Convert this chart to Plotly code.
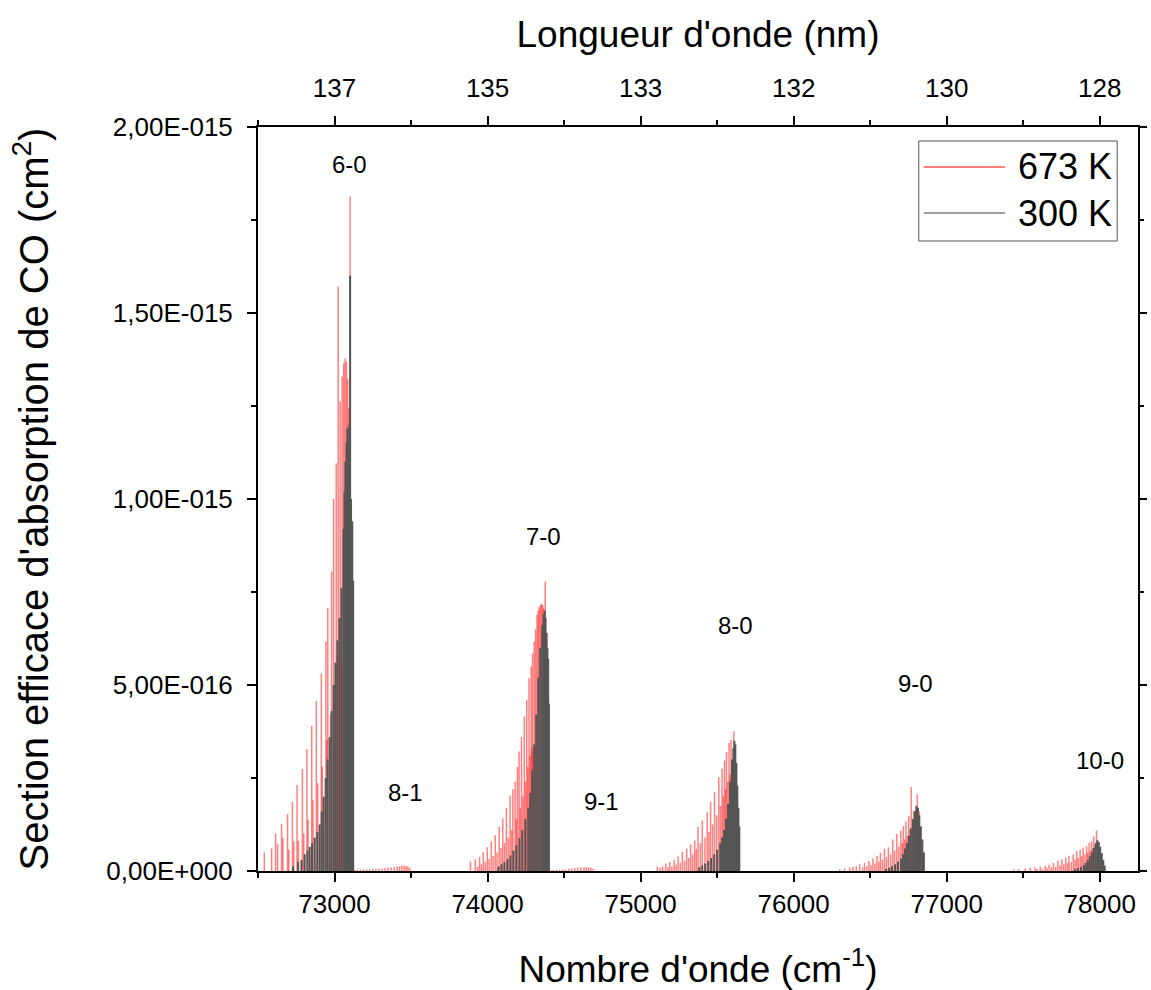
import plotly.graph_objects as go

UNIT = 1e-15  # heights below are in units of 1E-015 cm^2

# ---------------- band 6-0 ----------------
red_60_wn = [72541, 72589, 72615, 72654, 72693, 72725, 72755, 72790, 72820, 72851, 72881, 72914,
             72944, 72956, 72981, 72994, 73011, 73024, 73037, 73050, 73060, 73069, 73078, 73086,
             73093, 73102, 73108,
             72628, 72662, 72701, 72734, 72764, 72799, 72827, 72859, 72890, 72920, 72950, 72974,
             73000, 73017, 73030, 73043, 73056, 73066]
red_60_h = [0.050, 0.061, 0.101, 0.126, 0.153, 0.186, 0.231, 0.274, 0.327, 0.390, 0.457, 0.531,
            0.616, 0.707, 0.805, 1.000, 1.096, 1.571, 1.262, 1.329, 1.365, 1.378, 1.369, 1.324,
            1.244, 1.813, 0.997,
            0.072, 0.088, 0.058, 0.079, 0.081, 0.101, 0.137, 0.190, 0.236, 0.280, 0.352, 0.420,
            0.500, 0.560, 0.580, 0.570, 0.550, 0.600]
gray_60_wn = [72729, 72762, 72784, 72805, 72823, 72838, 72853, 72870, 72888, 72903, 72916, 72929,
              72942, 72955, 72968, 72981, 72994, 73006, 73019, 73032, 73045, 73058, 73065, 73071,
              73078, 73084, 73091, 73097, 73102, 73108, 73116, 73122]
gray_60_h = [0.012, 0.025, 0.030, 0.045, 0.055, 0.065, 0.075, 0.090, 0.105, 0.125, 0.160, 0.200,
             0.250, 0.300, 0.360, 0.430, 0.500, 0.560, 0.620, 0.680, 0.760, 0.920, 1.020, 1.100,
             1.150, 1.190, 1.170, 1.200, 1.600, 1.000, 0.940, 0.780]

# ---------------- band 8-1 ----------------
red_81_wn = [73130, 73150, 73170, 73190, 73210, 73230, 73250, 73270, 73290, 73310, 73330, 73350,
             73370, 73390, 73410, 73425, 73440, 73455, 73468, 73480, 73492]
red_81_h = [0.003, 0.003, 0.004, 0.004, 0.005, 0.005, 0.006, 0.006, 0.007, 0.007, 0.008, 0.009,
            0.010, 0.011, 0.012, 0.013, 0.014, 0.015, 0.014, 0.012, 0.008]

# ---------------- band 7-0 ----------------
red_70_wn = [73888, 73920, 73948, 73972, 73998, 74024, 74050, 74076, 74099, 74123, 74147, 74165,
             74180, 74195, 74206, 74222, 74240, 74256, 74271, 74285, 74294, 74305, 74314, 74323,
             74331, 74338, 74346, 74353, 74360, 74366, 74372, 74377, 74388, 74394,
             73935, 73960, 73985, 74010, 74036, 74062, 74088, 74111, 74135, 74157, 74188, 74214,
             74231, 74248, 74263, 74278, 74290, 74300, 74310]
red_70_h = [0.025, 0.031, 0.038, 0.051, 0.064, 0.079, 0.096, 0.119, 0.141, 0.169, 0.203, 0.220,
            0.240, 0.280, 0.321, 0.360, 0.415, 0.460, 0.518, 0.550, 0.585, 0.616, 0.650, 0.688,
            0.700, 0.710, 0.715, 0.719, 0.715, 0.706, 0.690, 0.778, 0.640, 0.568,
            0.012, 0.018, 0.025, 0.032, 0.040, 0.050, 0.062, 0.075, 0.090, 0.110, 0.140, 0.170,
            0.200, 0.240, 0.280, 0.310, 0.330, 0.320, 0.340]
gray_70_wn = [74071, 74091, 74110, 74130, 74149, 74169, 74188, 74208, 74227, 74247, 74266, 74279,
              74292, 74305, 74318, 74331, 74344, 74357, 74366, 74373, 74379, 74385, 74391, 74396,
              74401]
gray_70_h = [0.012, 0.018, 0.024, 0.032, 0.042, 0.055, 0.070, 0.088, 0.110, 0.140, 0.170, 0.210,
             0.270, 0.340, 0.420, 0.520, 0.600, 0.660, 0.690, 0.700, 0.680, 0.640, 0.600, 0.570,
             0.450]

# ---------------- band 9-1 ----------------
red_91_wn = [74410, 74430, 74450, 74470, 74490, 74510, 74530, 74550, 74570, 74590, 74610, 74630,
             74645, 74660, 74675, 74690]
red_91_h = [0.002, 0.003, 0.003, 0.004, 0.004, 0.005, 0.006, 0.007, 0.008, 0.009, 0.010, 0.010,
            0.011, 0.010, 0.009, 0.006]

# ---------------- band 8-0 ----------------
red_80_wn = [75110, 75143, 75164, 75190, 75219, 75245, 75273, 75301, 75327, 75353, 75375, 75403,
             75435, 75457, 75483, 75511, 75532, 75548, 75561, 75578, 75591, 75609,
             75128, 75178, 75204, 75232, 75259, 75287, 75314, 75340, 75364, 75390, 75420, 75446,
             75470, 75497, 75522, 75540, 75555, 75570, 75585, 75600, 75617]
red_80_h = [0.012, 0.013, 0.020, 0.024, 0.030, 0.039, 0.051, 0.060, 0.072, 0.082, 0.118, 0.136,
            0.158, 0.185, 0.212, 0.252, 0.275, 0.297, 0.320, 0.344, 0.353, 0.376,
            0.008, 0.010, 0.013, 0.017, 0.022, 0.028, 0.035, 0.045, 0.060, 0.075, 0.090, 0.105,
            0.125, 0.150, 0.175, 0.200, 0.220, 0.240, 0.260, 0.280, 0.300]
gray_80_wn = [75383, 75403, 75422, 75442, 75461, 75481, 75500, 75520, 75532, 75545, 75558, 75571,
              75584, 75597, 75606, 75613, 75619, 75626, 75632, 75639, 75645]
gray_80_h = [0.010, 0.015, 0.020, 0.027, 0.035, 0.045, 0.057, 0.075, 0.090, 0.110, 0.140, 0.180,
             0.240, 0.300, 0.330, 0.350, 0.340, 0.290, 0.230, 0.170, 0.120]

# ---------------- band 9-0 ----------------
red_90_wn = [76301, 76333, 76366, 76388, 76409, 76431, 76463, 76492, 76518, 76544, 76567, 76593,
             76619, 76648, 76674, 76700, 76717, 76734, 76752, 76768, 76784, 76795, 76808, 76821,
             76450, 76478, 76505, 76531, 76556, 76580, 76606, 76634, 76660, 76687, 76710, 76726,
             76743, 76760]
red_90_h = [0.005, 0.007, 0.009, 0.011, 0.013, 0.018, 0.022, 0.027, 0.034, 0.040, 0.049, 0.060,
            0.064, 0.085, 0.100, 0.108, 0.121, 0.134, 0.148, 0.226, 0.161, 0.166, 0.206, 0.160,
            0.010, 0.013, 0.016, 0.020, 0.025, 0.030, 0.037, 0.045, 0.055, 0.065, 0.075, 0.085,
            0.095, 0.110]
gray_90_wn = [76604, 76624, 76643, 76663, 76682, 76701, 76714, 76727, 76740, 76753, 76766, 76779,
              76792, 76802, 76812, 76821, 76831, 76841, 76851]
gray_90_h = [0.006, 0.009, 0.013, 0.018, 0.025, 0.033, 0.045, 0.060, 0.075, 0.095, 0.115, 0.140,
             0.160, 0.175, 0.170, 0.150, 0.120, 0.085, 0.050]

# ---------------- band 10-0 ----------------
red_100_wn = [77437, 77470, 77513, 77546, 77578, 77611, 77643, 77669, 77697, 77726, 77752, 77778,
              77799, 77827, 77849, 77872, 77892, 77914, 77931, 77947, 77961, 77979, 77989,
              77590, 77625, 77656, 77684, 77712, 77740, 77765, 77790, 77814, 77838, 77860, 77882,
              77903, 77922, 77940, 77954, 77970]
red_100_h = [0.004, 0.005, 0.007, 0.009, 0.010, 0.012, 0.014, 0.017, 0.022, 0.028, 0.031, 0.036,
             0.041, 0.045, 0.054, 0.058, 0.063, 0.067, 0.076, 0.080, 0.093, 0.109, 0.076,
             0.005, 0.006, 0.008, 0.010, 0.012, 0.015, 0.018, 0.021, 0.025, 0.030, 0.035, 0.040,
             0.045, 0.050, 0.055, 0.060, 0.070]
gray_100_wn = [77838, 77857, 77877, 77896, 77909, 77922, 77935, 77948, 77961, 77974, 77984, 77994,
               78003, 78013, 78023, 78032]
gray_100_h = [0.005, 0.008, 0.011, 0.016, 0.022, 0.030, 0.040, 0.050, 0.062, 0.075, 0.083, 0.078,
              0.065, 0.048, 0.030, 0.015]

# ---------------- labels / ticks ----------------
band_labels = ["6-0", "8-1", "7-0", "9-1", "8-0", "9-0", "10-0"]
band_label_x = [73097, 73461, 74364, 74747, 75623, 76799, 78000]
band_label_y = [1.898, 0.210, 0.898, 0.188, 0.661, 0.505, 0.298]

x_tickvals = [73000, 74000, 75000, 76000, 77000, 78000]
x_ticktext = ["73000", "74000", "75000", "76000", "77000", "78000"]
x_minor = [72500, 73500, 74500, 75500, 76500, 77500]
top_ticktext = ["137", "135", "133", "132", "130", "128"]
y_tickvals = [0, 0.5, 1.0, 1.5, 2.0]
y_ticktext = ["0,00E+000", "5,00E-016", "1,00E-015", "1,50E-015", "2,00E-015"]
y_minor = [0.25, 0.75, 1.25, 1.75]
series_names = ["673 K", "300 K"]

red_bands = [(red_60_wn, red_60_h), (red_81_wn, red_81_h), (red_70_wn, red_70_h),
             (red_91_wn, red_91_h), (red_80_wn, red_80_h), (red_90_wn, red_90_h),
             (red_100_wn, red_100_h)]
gray_bands = [(gray_60_wn, gray_60_h), (gray_70_wn, gray_70_h), (gray_80_wn, gray_80_h),
              (gray_90_wn, gray_90_h), (gray_100_wn, gray_100_h)]


def sticks(bands):
    xs, ys = [], []
    for wn, h in bands:
        for w, v in zip(wn, h):
            xs += [w, w, None]
            ys += [0, v * UNIT, None]
    return xs, ys


FONT = "Liberation Sans, Arial, sans-serif"
RED = "rgba(255,0,0,0.5)"
GRAY = "rgb(85,85,85)"
fig = go.Figure()

rx, ry = sticks(red_bands)
gx, gy = sticks(gray_bands)
fig.add_trace(go.Scatter(x=rx, y=ry, mode="lines", line=dict(color=RED, width=1.5),
                         name=series_names[0], showlegend=False, hoverinfo="skip"))
fig.add_trace(go.Scatter(x=gx, y=gy, mode="lines", line=dict(color=GRAY, width=2),
                         name=series_names[1], showlegend=False, hoverinfo="skip"))
# helper trace for top / right axes
fig.add_trace(go.Scatter(x=[72500], y=[0], xaxis="x2", yaxis="y2", mode="markers",
                         marker=dict(opacity=0), showlegend=False, hoverinfo="skip"))

for lab, lx, ly in zip(band_labels, band_label_x, band_label_y):
    fig.add_annotation(x=lx, y=ly * UNIT, text=lab, showarrow=False,
                       font=dict(family=FONT, size=24, color="black"))

# ---- legend drawn by hand (box, long sample lines, text) in paper coordinates ----
L, R, T, B = 258, 1145, 127, 871
def px(xp):
    return (xp - L) / (R - L)
def py(yp):
    return (B - yp) / (B - T)

fig.add_shape(type="rect", xref="paper", yref="paper", x0=px(924), x1=px(1124), y0=py(241),
              y1=py(141), line=dict(color="#555555", width=1), fillcolor="white", layer="above")
legend_colors = ["rgba(255,0,0,0.5)", "rgb(160,160,160)"]
legend_y = [167, 213]
for name, col, ly in zip(series_names, legend_colors, legend_y):
    fig.add_shape(type="line", xref="paper", yref="paper", x0=px(929), x1=px(1011), y0=py(ly),
                  y1=py(ly), line=dict(color=col, width=2), layer="above")
    fig.add_annotation(xref="paper", yref="paper", x=px(1022), y=py(ly), text=name,
                       showarrow=False, xanchor="left", yanchor="middle",
                       font=dict(family=FONT, size=36, color="black"))

tick_font = dict(family=FONT, size=26, color="black")
title_font = dict(family=FONT, size=37, color="black")
XR = [72500, 78250]
YR = [0, 2.0 * UNIT]

fig.update_layout(
    width=1151, height=990,
    margin=dict(l=258, r=6, t=127, b=119),
    paper_bgcolor="white", plot_bgcolor="white",
    showlegend=False,
    xaxis=dict(range=XR, showgrid=False, zeroline=False, showline=True, linecolor="black",
               linewidth=2, ticks="outside", ticklen=9, tickwidth=2, tickcolor="black",
               tickvals=x_tickvals, ticktext=x_ticktext, tickfont=tick_font,
               minor=dict(tickvals=x_minor, ticks="outside", ticklen=5, tickwidth=2, tickcolor="black"),
               title=dict(text="Nombre d'onde (cm<sup>-1</sup>)", font=title_font, standoff=38)),
    xaxis2=dict(range=XR, overlaying="x", side="top", showgrid=False, zeroline=False, showline=True,
                linecolor="black", linewidth=2, ticks="outside", ticklen=9, tickwidth=2,
                tickcolor="black", tickvals=x_tickvals, ticktext=top_ticktext, tickfont=tick_font,
                ticklabelstandoff=9,
                minor=dict(tickvals=x_minor, ticks="outside", ticklen=5, tickwidth=2, tickcolor="black"),
                title=dict(text="Longueur d'onde (nm)", font=title_font, standoff=14)),
    yaxis=dict(range=YR, showgrid=False, zeroline=False, showline=True, linecolor="black",
               linewidth=2, ticks="outside", ticklen=9, tickwidth=2, tickcolor="black",
               tickvals=[v * UNIT for v in y_tickvals], ticktext=y_ticktext, tickfont=tick_font,
               ticklabelstandoff=9,
               minor=dict(tickvals=[v * UNIT for v in y_minor], ticks="outside", ticklen=5,
                          tickwidth=2, tickcolor="black"),
               title=dict(text="Section efficace d'absorption de CO (cm<sup>2</sup>)",
                          font=dict(family=FONT, size=40, color="black"), standoff=45)),
    yaxis2=dict(range=YR, overlaying="y", side="right", showgrid=False, zeroline=False,
                showline=True, linecolor="black", linewidth=2, ticks="outside", ticklen=7,
                tickwidth=2, tickcolor="black", tickvals=[v * UNIT for v in y_tickvals],
                showticklabels=False,
                minor=dict(tickvals=[v * UNIT for v in y_minor], ticks="outside", ticklen=4,
                           tickwidth=2, tickcolor="black")),
)

fig.write_html("out.html", config={"displayModeBar": False},
               post_script="document.body.style.margin='0';")
